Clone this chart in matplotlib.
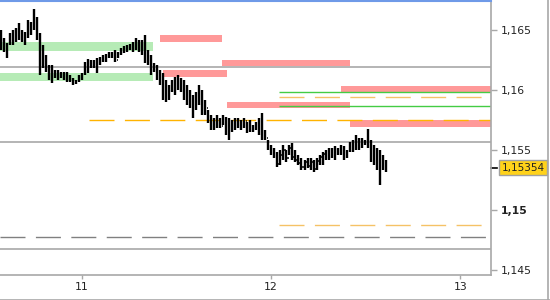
import numpy as np
import matplotlib
matplotlib.use('Agg')
import matplotlib.pyplot as plt
from matplotlib.lines import Line2D

plt.rcParams['lines.scale_dashes'] = False
plt.rcParams['font.family'] = ['DejaVu Sans']

# ---------------- data ----------------
bar_start = 10.5737          # time of first bar (days)
bar_step = 1 / 63            # bar interval (days)
first_open = 1.16450

highs = [1.16500, 1.16433, 1.16392, 1.16475, 1.16500, 1.16517, 1.16558, 1.16500, 1.16483, 1.16583,
         1.16567, 1.16675, 1.16608, 1.16475, 1.16375, 1.16292, 1.16208, 1.16208, 1.16167, 1.16167,
         1.16150, 1.16150, 1.16150, 1.16125, 1.16100, 1.16083, 1.16125, 1.16142, 1.16233, 1.16258,
         1.16250, 1.16250, 1.16267, 1.16275, 1.16292, 1.16300, 1.16317, 1.16317, 1.16333, 1.16317,
         1.16350, 1.16367, 1.16375, 1.16383, 1.16400, 1.16433, 1.16417, 1.16417, 1.16458, 1.16333,
         1.16292, 1.16225, 1.16208, 1.16167, 1.16142, 1.16083, 1.16042, 1.16083, 1.16108, 1.16125,
         1.16100, 1.16083, 1.16042, 1.16000, 1.15958, 1.15983, 1.16042, 1.16000, 1.15917, 1.15833,
         1.15792, 1.15767, 1.15792, 1.15767, 1.15792, 1.15775, 1.15767, 1.15750, 1.15767, 1.15767,
         1.15750, 1.15767, 1.15733, 1.15750, 1.15708, 1.15733, 1.15767, 1.15808, 1.15667, 1.15583,
         1.15542, 1.15517, 1.15483, 1.15500, 1.15542, 1.15500, 1.15542, 1.15558, 1.15500, 1.15458,
         1.15433, 1.15417, 1.15433, 1.15433, 1.15417, 1.15433, 1.15458, 1.15483, 1.15500, 1.15517,
         1.15517, 1.15533, 1.15517, 1.15542, 1.15533, 1.15500, 1.15567, 1.15583, 1.15625, 1.15600,
         1.15600, 1.15583, 1.15675, 1.15583, 1.15542, 1.15517, 1.15500, 1.15458, 1.15417]

lows = [1.16333, 1.16317, 1.16267, 1.16375, 1.16375, 1.16400, 1.16417, 1.16400, 1.16375, 1.16433,
        1.16458, 1.16500, 1.16417, 1.16125, 1.16183, 1.16150, 1.16083, 1.16058, 1.16100, 1.16083,
        1.16100, 1.16083, 1.16067, 1.16067, 1.16042, 1.16050, 1.16067, 1.16083, 1.16125, 1.16142,
        1.16183, 1.16183, 1.16142, 1.16208, 1.16233, 1.16233, 1.16267, 1.16267, 1.16233, 1.16267,
        1.16292, 1.16308, 1.16317, 1.16333, 1.16317, 1.16333, 1.16317, 1.16292, 1.16225, 1.16208,
        1.16125, 1.16150, 1.16083, 1.16042, 1.15917, 1.15900, 1.15917, 1.15983, 1.15958, 1.16000,
        1.15983, 1.15917, 1.15875, 1.15850, 1.15767, 1.15833, 1.15875, 1.15792, 1.15792, 1.15725,
        1.15667, 1.15667, 1.15683, 1.15683, 1.15708, 1.15625, 1.15583, 1.15650, 1.15667, 1.15683,
        1.15667, 1.15683, 1.15642, 1.15650, 1.15650, 1.15667, 1.15625, 1.15583, 1.15583, 1.15500,
        1.15458, 1.15433, 1.15358, 1.15375, 1.15417, 1.15400, 1.15458, 1.15417, 1.15400, 1.15375,
        1.15333, 1.15333, 1.15350, 1.15333, 1.15317, 1.15333, 1.15375, 1.15375, 1.15417, 1.15417,
        1.15433, 1.15417, 1.15458, 1.15458, 1.15417, 1.15433, 1.15483, 1.15483, 1.15500, 1.15500,
        1.15517, 1.15542, 1.15517, 1.15400, 1.15375, 1.15333, 1.15208, 1.15333, 1.15317]

closes = [1.16420, 1.16340, 1.16380, 1.16450, 1.16410, 1.16500, 1.16440, 1.16470, 1.16440, 1.16540,
          1.16520, 1.16560, 1.16430, 1.16250, 1.16200, 1.16180, 1.16120, 1.16150, 1.16110, 1.16130,
          1.16120, 1.16100, 1.16110, 1.16080, 1.16070, 1.16075, 1.16110, 1.16130, 1.16220, 1.16200,
          1.16230, 1.16200, 1.16250, 1.16260, 1.16250, 1.16290, 1.16290, 1.16300, 1.16250, 1.16310,
          1.16330, 1.16350, 1.16340, 1.16370, 1.16340, 1.16400, 1.16350, 1.16400, 1.16250, 1.16230,
          1.16180, 1.16170, 1.16100, 1.16060, 1.15950, 1.16000, 1.16030, 1.16000, 1.16080, 1.16050,
          1.16020, 1.15950, 1.15900, 1.15870, 1.15900, 1.15950, 1.15900, 1.15830, 1.15850, 1.15740,
          1.15700, 1.15720, 1.15760, 1.15700, 1.15760, 1.15650, 1.15730, 1.15680, 1.15740, 1.15700,
          1.15720, 1.15740, 1.15670, 1.15700, 1.15680, 1.15720, 1.15750, 1.15620, 1.15600, 1.15520,
          1.15480, 1.15460, 1.15380, 1.15460, 1.15500, 1.15430, 1.15520, 1.15440, 1.15420, 1.15390,
          1.15360, 1.15400, 1.15370, 1.15400, 1.15340, 1.15410, 1.15440, 1.15470, 1.15440, 1.15490,
          1.15460, 1.15510, 1.15480, 1.15520, 1.15460, 1.15490, 1.15540, 1.15510, 1.15580, 1.15530,
          1.15560, 1.15550, 1.15560, 1.15420, 1.15400, 1.15360, 1.15380, 1.15400, 1.15354]

last_price = 1.15354
last_label = "1,15354"

# zones
green_lo = [1.16325, 1.16075]
green_hi = [1.16400, 1.16142]
green_x0 = [10.5684, 10.5684]
green_x1 = [11.377, 11.377]

red_lo = [1.16403, 1.16203, 1.16111, 1.15853, 1.15983, 1.15692]
red_hi = [1.16461, 1.16250, 1.16167, 1.15900, 1.16033, 1.15750]
red_x0 = [11.4136, 11.7412, 11.4295, 11.7676, 12.3698, 12.4174]
red_x1 = [11.7412, 12.4174, 11.7676, 12.4174, 13.162, 13.162]

# levels
grey_solid_levels = [1.16192, 1.15567, 1.14675]
grey_dash_levels = [1.14775]
orange_levels = [1.15750, 1.15942, 1.14875]
orange_x0 = [11.0386, 12.042, 12.042]
green_line_levels = [1.15983, 1.15867]
green_line_x0 = [12.042, 12.042]

xlim = (10.5684, 13.162)
ylim = (1.14458, 1.16742)
xticks = [11, 12, 13]
xticklabels = ["11", "12", "13"]
yticks = [1.145, 1.15, 1.155, 1.16, 1.165]
yticklabels = ["1,145", "1,15", "1,155", "1,16", "1,165"]

# ---------------- figure ----------------
fig = plt.figure(figsize=(5.5, 3.0), dpi=100)
ax = fig.add_axes([0, 25 / 300, 491 / 550, 274 / 300])
ax.set_xlim(*xlim)
ax.set_ylim(*ylim)

# zones
for lo, hi, x0, x1 in zip(green_lo, green_hi, green_x0, green_x1):
    ax.fill_between([x0, x1], lo, hi, color='#b6ebb6', lw=0, zorder=1)
for lo, hi, x0, x1 in zip(red_lo, red_hi, red_x0, red_x1):
    ax.fill_between([x0, x1], lo, hi, color='#ff9999', lw=0, zorder=1)

# level lines
for lv in grey_solid_levels:
    ax.axhline(lv, color='#a8a8a8', lw=1.2, zorder=2)
for lv in grey_dash_levels:
    ax.axhline(lv, color='#808080', lw=1.0, linestyle=(0, (18, 7.5)), zorder=2)
orange_cols = ['#ffb300', '#f5c266', '#f5c266']
for lv, x0, c in zip(orange_levels, orange_x0, orange_cols):
    ax.hlines(lv, x0, xlim[1], color=c, lw=1.0, linestyles=[(0, (18, 7.5))], zorder=2)
for lv, x0 in zip(green_line_levels, green_line_x0):
    ax.hlines(lv, x0, xlim[1], color='#44cc44', lw=1.0, zorder=2)

# OHLC bars
n = len(highs)
t = bar_start + np.arange(n) * bar_step
opens = [first_open] + closes[:-1]
w = 0.0055
ax.vlines(t, lows, highs, color='black', lw=1.7, zorder=3)
ax.hlines(opens, t - w, t, color='black', lw=1.1, zorder=3)
ax.hlines(closes, t, t + w, color='black', lw=1.1, zorder=3)

# spines
ax.spines['left'].set_visible(False)
ax.spines['top'].set_color('#6f9ae8')
ax.spines['top'].set_linewidth(1.5)
ax.spines['right'].set_color('#a8a8a8')
ax.spines['bottom'].set_color('#a8a8a8')
ax.spines['right'].set_linewidth(1.2)
ax.spines['bottom'].set_linewidth(1.2)

# ticks
ax.yaxis.tick_right()
ax.set_yticks(yticks)
ax.set_yticklabels(yticklabels)
ax.set_xticks(xticks)
ax.set_xticklabels(xticklabels)
ax.tick_params(axis='y', which='both', direction='out', length=4, width=1,
               color='#a8a8a8', labelsize=7.8, labelcolor='#222222', pad=3)
ax.tick_params(axis='x', which='both', direction='out', length=3, width=1,
               color='#a8a8a8', labelsize=7.8, labelcolor='#222222', pad=2)
for lab in ax.get_yticklabels():
    if lab.get_text() == "1,15":
        lab.set_fontweight('bold')

# last price marker and label
ytr = ax.get_yaxis_transform()
ax.add_line(Line2D([1.0, 1.012], [last_price, last_price], transform=ytr,
                   color='black', lw=1.2, clip_on=False))
ax.annotate(last_label, xy=(1.0, last_price), xycoords=ytr,
            xytext=(7.5, 0), textcoords='offset points', va='center', ha='left',
            fontsize=7.5, color='#222222',
            bbox=dict(boxstyle='square,pad=0.22', fc='#ffd21a', ec='#a0a0a0', lw=1))

# figure borders
fig.add_artist(Line2D([0, 1], [0.5 / 300, 0.5 / 300], transform=fig.transFigure,
                      color='#a8a8a8', lw=1.2))
fig.add_artist(Line2D([548 / 550, 548 / 550], [0, 1], transform=fig.transFigure,
                      color='#a8a8a8', lw=1.2))

fig.savefig('out.png', dpi=100)
